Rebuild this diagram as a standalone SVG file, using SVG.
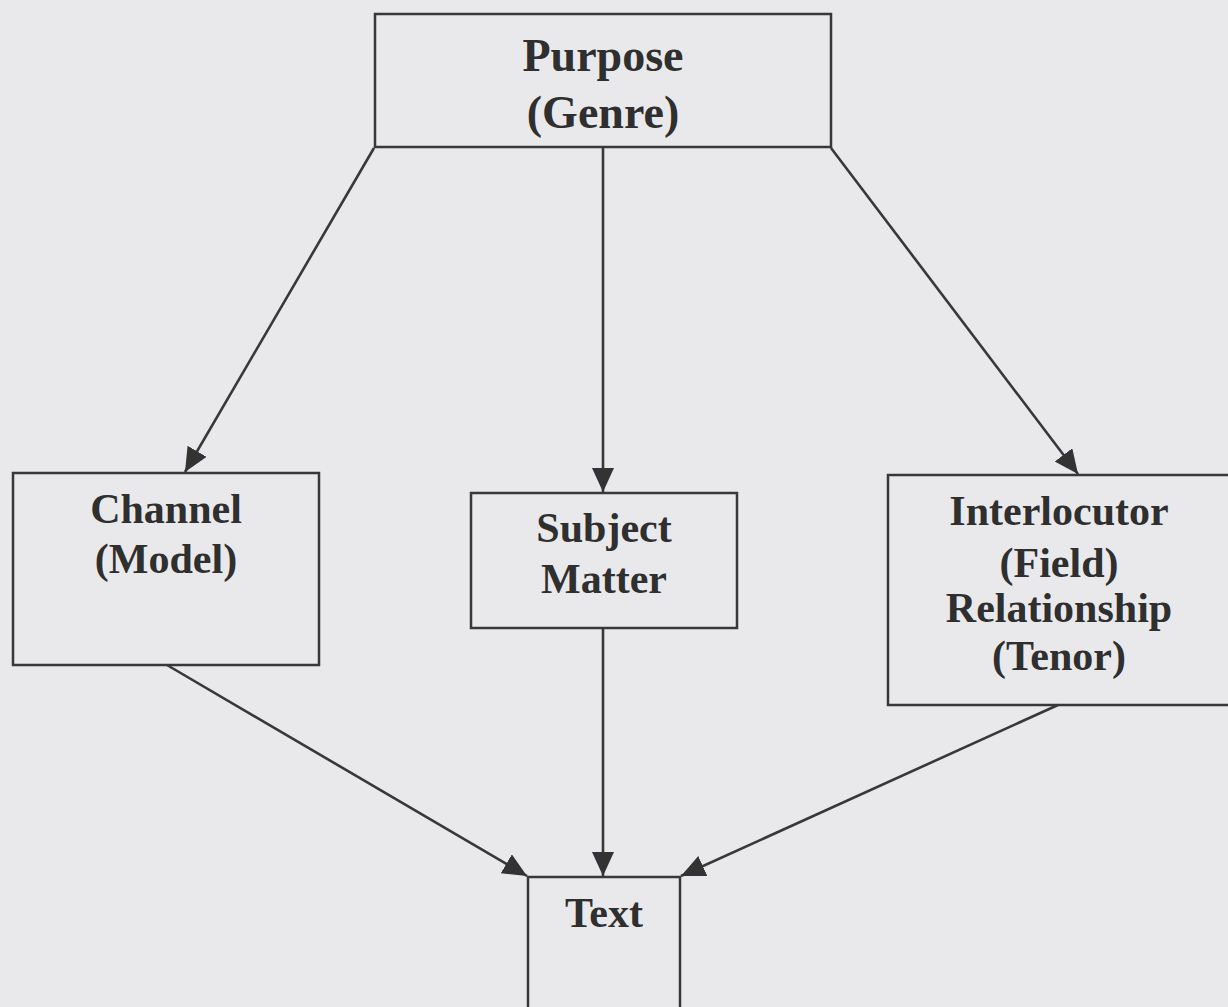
<svg xmlns="http://www.w3.org/2000/svg" width="1228" height="1007" viewBox="0 0 1228 1007">
<style>
.box{fill:none;stroke:#383838;stroke-width:2.5}
.lbl{font-family:"Liberation Serif","Times New Roman",serif;font-weight:bold;font-size:42px;fill:#2f2f2f;text-anchor:middle}
.big{font-size:46px}
.conn{stroke:#383838;stroke-width:2.6;fill:none;marker-end:url(#ah)}
</style>
<defs>
<marker id="ah" markerUnits="userSpaceOnUse" markerWidth="26" markerHeight="24" refX="24" refY="11" orient="auto" viewBox="0 0 26 24">
<path d="M0,0 L24,11 L0,22 z" fill="#333"/>
</marker>
</defs>
<rect width="1228" height="1007" fill="#e9e9ec"/>
<g id="connectors">
<line class="conn" x1="374" y1="148" x2="185" y2="472"/>
<line class="conn" x1="603" y1="148" x2="603" y2="492"/>
<line class="conn" x1="831" y1="148" x2="1078" y2="474"/>
<line class="conn" x1="167" y1="665" x2="527" y2="876"/>
<line class="conn" x1="603" y1="628" x2="603" y2="876"/>
<line class="conn" x1="1058" y1="705" x2="681" y2="876"/>
</g>
<g id="purpose">
<rect class="box" x="375" y="14" width="456" height="133"/>
<text class="lbl big" x="603" y="71">Purpose</text>
<text class="lbl big" x="603" y="128">(Genre)</text>
</g>
<g id="channel">
<rect class="box" x="13" y="473" width="306" height="192"/>
<text class="lbl" x="166" y="523">Channel</text>
<text class="lbl" x="166" y="573">(Model)</text>
</g>
<g id="subject">
<rect class="box" x="471" y="493" width="266" height="135"/>
<text class="lbl" x="604" y="542">Subject</text>
<text class="lbl" x="604" y="593">Matter</text>
</g>
<g id="interlocutor">
<rect class="box" x="888" y="475" width="342" height="230"/>
<text class="lbl" x="1059" y="525">Interlocutor</text>
<text class="lbl" x="1059" y="577">(Field)</text>
<text class="lbl" x="1059" y="622">Relationship</text>
<text class="lbl" x="1059" y="670">(Tenor)</text>
</g>
<g id="text">
<rect class="box" x="528" y="877" width="152" height="140"/>
<text class="lbl" x="604" y="927">Text</text>
</g>
</svg>
